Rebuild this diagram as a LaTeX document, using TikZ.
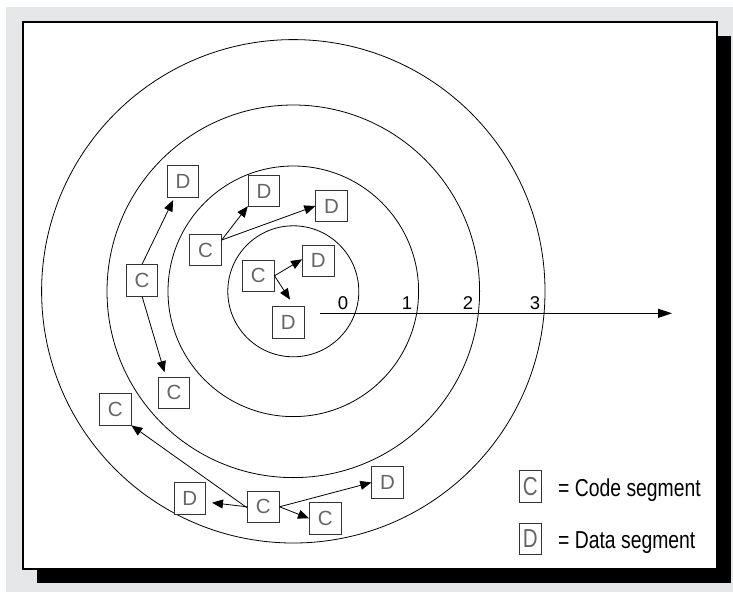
\documentclass[tikz,border=0pt]{standalone}
\usepackage{fontspec}
\setmainfont{Liberation Sans}
\newfontfamily\narrowfont[FakeStretch=0.79]{Liberation Sans}
\usetikzlibrary{arrows.meta,calc}
\definecolor{bggrey}{HTML}{E6E7E9}
\definecolor{boxgrey}{HTML}{666666}
\begin{document}
\begin{tikzpicture}[x=1pt,y=-1pt,
  seg/.style={draw=black!80, line width=0.9pt, fill=white, minimum width=31.5pt,
    minimum height=31.5pt, inner sep=0pt, text=boxgrey,
    font=\fontsize{20.5}{21}\selectfont},
  legbox/.style={draw=black!80, line width=0.9pt, fill=white, minimum width=21.5pt,
    minimum height=31.5pt, inner sep=0pt, text=boxgrey,
    font=\narrowfont\fontsize{26}{27}\selectfont},
  legtext/.style={anchor=base west, inner sep=0pt,
    font=\narrowfont\fontsize{24.5}{25}\selectfont},
  num/.style={anchor=base, inner sep=0pt, font=\fontsize{18.5}{19}\selectfont},
  link/.style={-{Triangle[length=11pt,width=9pt]}, line width=0.8pt},
  ring/.style={line width=0.8pt}]

\useasboundingbox (0,0) rectangle (733,592);
\fill[bggrey] (6,7) rectangle (733,592);
\fill[black] (37,36) rectangle (731,583);
\draw[fill=white, line width=1.2pt] (23,22) rectangle (717,569);

% rings
\coordinate (O) at (293.3,291.3);
\foreach \r in {65.5,125.3,186.3,251.7}
  \draw[ring] (O) circle[radius=\r pt];

% segments
\node[seg] (D1) at (183,181.5) {D};
\node[seg] (D2) at (264,191) {D};
\node[seg] (D3) at (331.5,206) {D};
\node[seg] (C4) at (205.5,250) {C};
\node[seg] (C5) at (258.3,275.8) {C};
\node[seg] (D6) at (318.3,260.8) {D};
\node[seg] (D7) at (288.3,322.5) {D};
\node[seg] (C8) at (142.1,280.3) {C};
\node[seg] (C9) at (173.9,392.8) {C};
\node[seg] (C10) at (115.2,409.2) {C};
\node[seg] (D11) at (189.8,498.5) {D};
\node[seg] (C12) at (263.3,506.8) {C};
\node[seg] (C13) at (325.2,518.3) {C};
\node[seg] (D14) at (387.5,482.5) {D};

% links
\draw[link] (C8.north) -- ($(D1.south west)+(6.3,2.5)$);
\draw[link] (C8.south) -- ($(C9.north west)+(6.8,-4.4)$);
\draw[link] ($(C4.east)+(0,-10)$) -- ($(D2.south west)+(0,-1)$);
\draw[link] ($(C4.east)+(0,-10)$) -- (D3.west);
\draw[link] (C5.east) -- ($(D6.west)+(0,-1.5)$);
\draw[link] (C5.east) -- ($(D7.north)+(1.7,-6.7)$);
\draw[link] (C12.west) -- ($(D11.east)+(6,4.2)$);
\draw[link] ($(C12.west)+(0,1)$) -- (C10.south east);
\draw[link] (C12.east) -- (D14.west);
\draw[link] (C12.east) -- (C13.west);

% axis
\coordinate (ax0) at (320,313.3);
\coordinate (ax1) at (672,313.3);
\draw[-{Triangle[length=14pt,width=9pt]}, line width=0.9pt] (ax0) -- (ax1);
\node[num] (n0) at (343,309.3) {0};
\node[num] (n1) at (407,309.3) {1};
\node[num] (n2) at (468,309.3) {2};
\node[num] (n3) at (535,309.3) {3};

% legend
\node[legbox] (LC) at (530.2,486.2) {C};
\node[legbox] (LD) at (530.2,538.8) {D};
\node[legtext] (LCt) at (558,496) {= Code segment};
\node[legtext] (LDt) at (558,548.6) {= Data segment};
\end{tikzpicture}
\end{document}
